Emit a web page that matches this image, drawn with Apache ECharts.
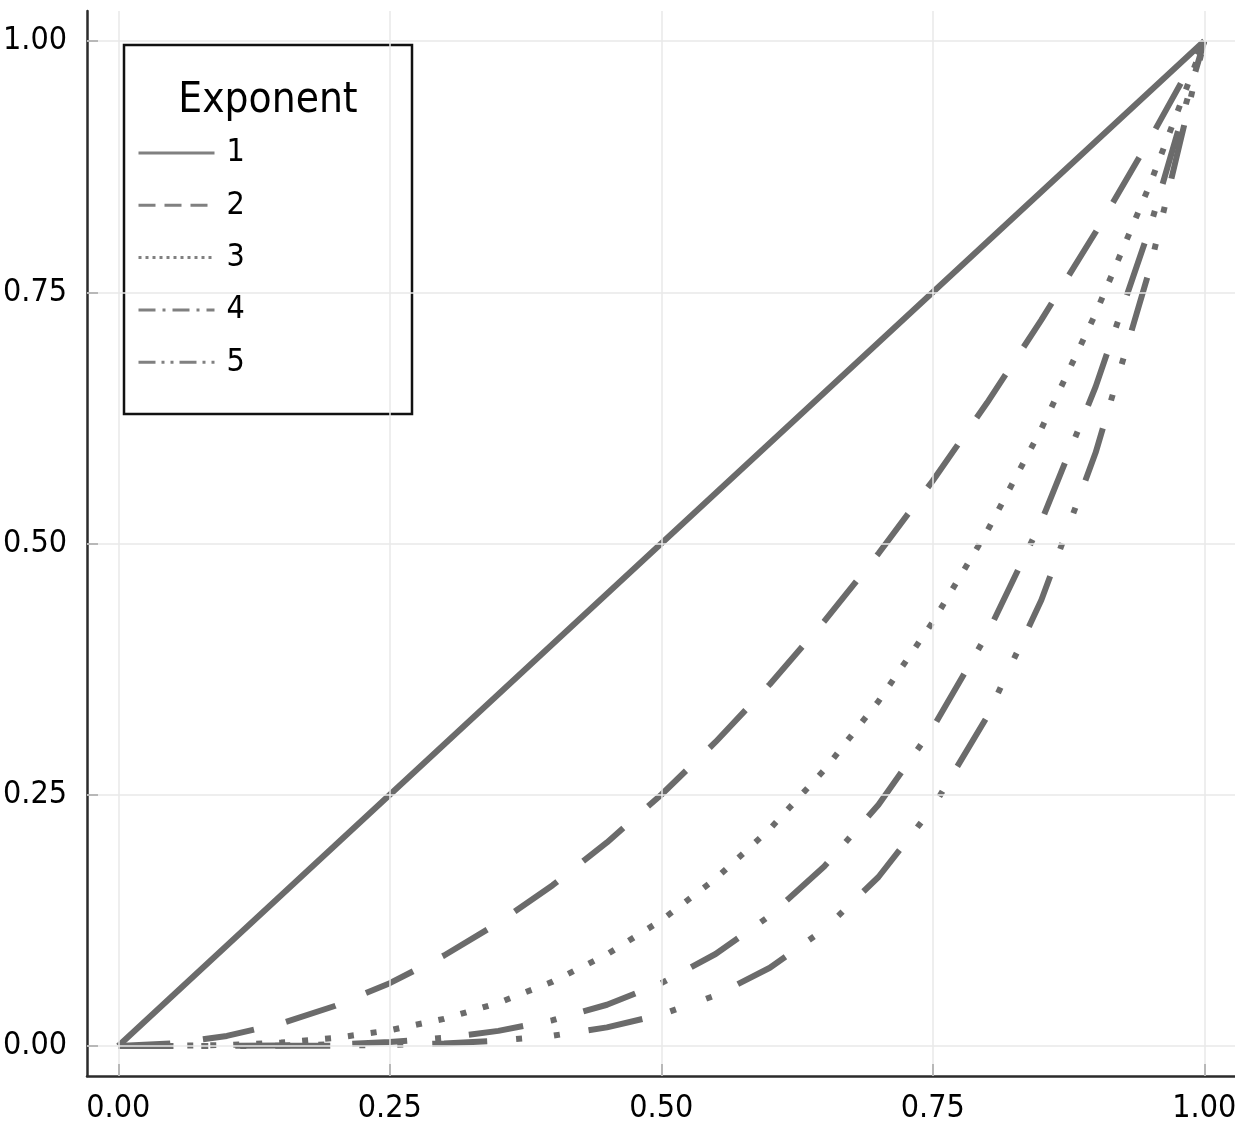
<!DOCTYPE html>
<html>
<head>
<meta charset="utf-8">
<script src="https://cdn.jsdelivr.net/npm/echarts@6/dist/echarts.min.js"></script>
<style>
html,body{margin:0;padding:0;background:#fff;}
#chart{width:1235px;height:1126px;}
</style>
</head>
<body>
<div id="chart"></div>
<script>
// ---- data ----
const xValues = [0,0.05,0.1,0.15,0.2,0.25,0.3,0.35,0.4,0.45,0.5,0.55,0.6,0.65,0.7,0.75,0.8,0.85,0.9,0.95,1];
const exp1 = [0,0.05,0.1,0.15,0.2,0.25,0.3,0.35,0.4,0.45,0.5,0.55,0.6,0.65,0.7,0.75,0.8,0.85,0.9,0.95,1];
const exp2 = [0,0.0025,0.01,0.0225,0.04,0.0625,0.09,0.1225,0.16,0.2025,0.25,0.3025,0.36,0.4225,0.49,0.5625,0.64,0.7225,0.81,0.9025,1];
const exp3 = [0,0.0001,0.001,0.0034,0.008,0.0156,0.027,0.0429,0.064,0.0911,0.125,0.1664,0.216,0.2746,0.343,0.4219,0.512,0.6141,0.729,0.8574,1];
const exp4 = [0,0,0.0001,0.0005,0.0016,0.0039,0.0081,0.015,0.0256,0.041,0.0625,0.0915,0.1296,0.1785,0.2401,0.3164,0.4096,0.522,0.6561,0.8145,1];
const exp5 = [0,0,0,0.0001,0.0003,0.001,0.0024,0.0053,0.0102,0.0185,0.0313,0.0503,0.0778,0.116,0.1681,0.2373,0.3277,0.4437,0.5905,0.7738,1];
const seriesNames = ['1','2','3','4','5'];
const legendTitle = 'Exponent';
const tickValues = [0,0.25,0.5,0.75,1];
const tickLabels = ['0.00','0.25','0.50','0.75','1.00'];

const FONT = "'Liberation Sans Narrow','DejaVu Sans Condensed','DejaVu Sans',sans-serif";
const LINE_COLOR = '#6b6b6b';
const plotDash = [null, [52,33], [6,17], [55,28,6,28], [55,29,6,32,6,29]];
const legendDash = ['solid', [17,9], [3,4], [17,7,3,7], [17,6,3,6,3,6]];
const allY = [exp1, exp2, exp3, exp4, exp5];

const chart = echarts.init(document.getElementById('chart'));

const series = allY.map((ys, i) => ({
  name: seriesNames[i],
  type: 'line',
  data: xValues.map((x, j) => [x, ys[j]]),
  symbol: 'none',
  showSymbol: false,
  smooth: false,
  z: 3,
  lineStyle: { color: LINE_COLOR, width: 6, type: plotDash[i] || 'solid', cap: 'butt', join: 'round' },
  itemStyle: { color: LINE_COLOR },
  animation: false
}));

// grid lines
series.push({
  name: '__grid',
  type: 'line',
  data: [],
  silent: true,
  z: 1,
  markLine: {
    silent: true,
    symbol: 'none',
    animation: false,
    label: { show: false },
    lineStyle: { color: '#e8e8e8', width: 1.5, type: 'solid' },
    data: tickValues.map(v => ({ xAxis: v })).concat(tickValues.map(v => ({ yAxis: v })))
  }
});

const labelFmt = v => { const k = tickValues.findIndex(t => Math.abs(t - v) < 1e-6); return k >= 0 ? tickLabels[k] : ''; };

const option = {
  backgroundColor: '#ffffff',
  animation: false,
  grid: { left: 87, right: 0, top: 11, bottom: 50, containLabel: false, outerBoundsMode: 'none' },
  xAxis: {
    type: 'value',
    min: -0.0288, max: 1.0283,
    splitLine: { show: false },
    axisLine: { show: true, onZero: false, lineStyle: { color: '#2b2b2b', width: 2.5 } },
    axisTick: { show: true, inside: true, length: 12, customValues: tickValues, lineStyle: { color: '#2b2b2b', width: 2 } },
    axisLabel: { customValues: tickValues, formatter: labelFmt, margin: 17, fontSize: 32, fontFamily: FONT, color: '#000', hideOverlap: false, showMinLabel: true, showMaxLabel: true }
  },
  yAxis: {
    type: 'value',
    min: -0.0299, max: 1.0299,
    splitLine: { show: false },
    axisLine: { show: true, onZero: false, lineStyle: { color: '#2b2b2b', width: 2.5 } },
    axisTick: { show: true, inside: true, length: 11, customValues: tickValues, lineStyle: { color: '#2b2b2b', width: 2 } },
    axisLabel: { customValues: tickValues, formatter: labelFmt, margin: 20, fontSize: 32, fontFamily: FONT, color: '#000', hideOverlap: false }
  },
  legend: {
    orient: 'vertical',
    left: 137, top: 136,
    padding: 0,
    itemWidth: 76, itemHeight: 34, itemGap: 18.3,
    z: 10,
    selectedMode: false,
    itemStyle: { opacity: 0 },
    textStyle: { fontSize: 32, fontFamily: FONT, color: '#000', lineHeight: 34, padding: [0,0,0,7] },
    data: seriesNames.map((n, i) => ({
      name: n,
      itemStyle: { opacity: 0 },
      lineStyle: { color: '#808080', width: 3, type: legendDash[i], opacity: 1 }
    }))
  },
  graphic: [
    {
      type: 'rect', z: 5, silent: true,
      shape: { x: 124, y: 45, width: 288, height: 369 },
      style: { fill: '#ffffff', stroke: '#111111', lineWidth: 2.5 }
    },
    {
      type: 'text', z: 10, silent: true,
      x: 268, y: 101,
      style: { text: legendTitle, fontSize: 42, fontFamily: FONT, fill: '#000', align: 'center', verticalAlign: 'middle' }
    }
  ],
  series: series
};
chart.setOption(option);
</script>
</body>
</html>
